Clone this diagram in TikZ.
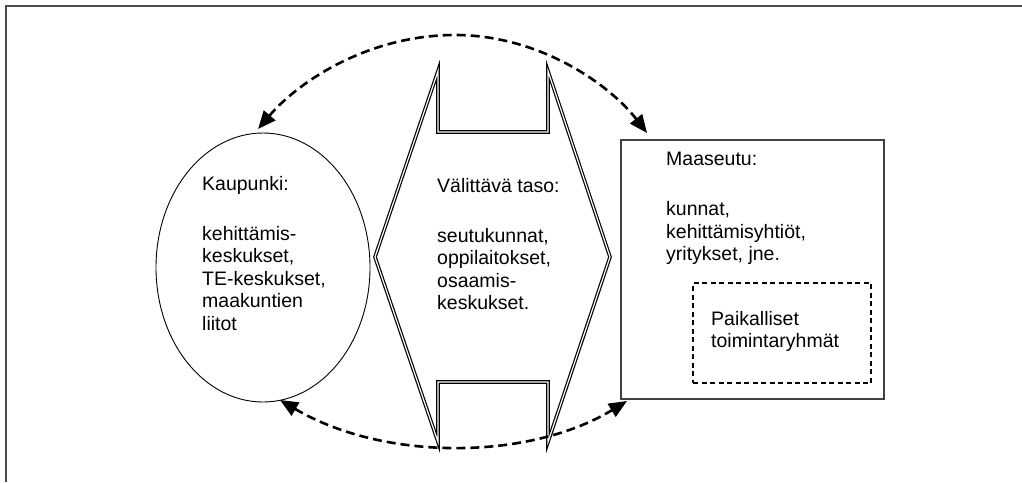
\documentclass[tikz,border=0pt]{standalone}
\usepackage{fontspec}
\setmainfont{Liberation Sans}
\usetikzlibrary{arrows.meta,shapes.geometric}
\begin{document}
\begin{tikzpicture}[x=1pt,y=-1pt,
  txt/.style={anchor=north west,inner sep=0pt,align=left,
    font=\fontsize{19.5}{22.5}\selectfont},
  link/.style={line width=2.6pt,dash pattern=on 9pt off 5pt,
    {Triangle[length=18pt,width=15pt]}-{Triangle[length=18pt,width=15pt]}},
  channel/.style={double,line width=1.2pt,double distance=1.2pt,line join=miter}
]
\useasboundingbox (0,0) rectangle (1022,482);
% outer frame, open to the right and bottom
\draw[line width=1.5pt,black!70] (6,482) -- (6,6) -- (1022,6);

% city
\node[ellipse,draw,line width=0.9pt,minimum width=214pt,minimum height=269pt,inner sep=0pt]
  (city) at (263,267.5) {};
\node[txt] (citytxt) at (202,176) {Kaupunki:\\[27.5pt]kehittämis-\\keskukset,\\TE-keskukset,\\maakuntien\\liitot};

% countryside
\node[draw=black!75,line width=1.4pt,minimum width=263pt,minimum height=259pt,inner sep=0pt]
  (rural) at (752.5,269.5) {};
\node[txt] (ruraltxt) at (666,152) {Maaseutu:\\[27.5pt]kunnat,\\kehittämisyhtiöt,\\yritykset, jne.};
\node[draw,line width=1.5pt,dash pattern=on 5pt off 3.5pt,minimum width=178pt,minimum height=100pt,inner sep=0pt]
  (groups) at (782,333) {};
\node[txt] (groupstxt) at (711,311) {Paikalliset\\toimintaryhmät};

% intermediate level: double-headed block arrow
\draw[channel] (375,257) -- (438,71) -- (438,132) -- (548,132) -- (548,71) -- (610,257)
  -- (548,442) -- (548,382) -- (438,382) -- (438,442) -- cycle;
\node[txt] (midtxt) at (437,178) {Välittävä taso:\\[27.5pt]seutukunnat,\\oppilaitokset,\\osaamis-\\keskukset.};

% dashed two-way links
\coordinate (topL) at (258,129);
\coordinate (topM) at (455,35);
\coordinate (topR) at (647,133);
\coordinate (botL) at (280,400);
\coordinate (botR) at (627,401);
\draw[link] (topL) .. controls (300,80) and (370,35) .. (topM)
  .. controls (540,35) and (610,85) .. (topR);
\draw[link] (botL) .. controls (385,462) and (530,460) .. (botR);
\end{tikzpicture}
\end{document}
